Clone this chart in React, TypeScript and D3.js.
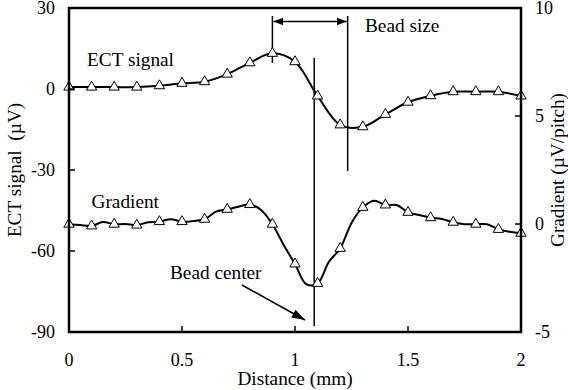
import React from "react";
import * as d3 from "d3";

// ---- data ----
const ectDistance = [0, 0.1, 0.2, 0.3, 0.4, 0.5, 0.6, 0.7, 0.8, 0.9, 1.0, 1.1, 1.2, 1.3, 1.4, 1.5, 1.6, 1.7, 1.8, 1.9, 2.0];
const ectValues = [0.7, 0.7, 0.7, 0.7, 1.2, 2.1, 2.7, 5.5, 9.7, 13.2, 10.1, -2.6, -13.3, -14.0, -9.4, -4.9, -2.5, -1.0, -1.0, -1.0, -2.6];

const gradDistance = [
  0, 0.05, 0.1, 0.15, 0.2, 0.25, 0.3, 0.35, 0.4, 0.45, 0.5, 0.55, 0.6, 0.65, 0.7, 0.75, 0.8, 0.85, 0.9, 0.95,
  1.0, 1.05, 1.1, 1.15, 1.2, 1.25, 1.3, 1.35, 1.4, 1.45, 1.5, 1.55, 1.6, 1.65, 1.7, 1.75, 1.8, 1.85, 1.9, 1.95, 2.0,
];
const gradValues = [
  -0.01, -0.05, -0.09, 0.09, -0.01, 0.0, -0.05, 0.08, 0.11, 0.22, 0.11, 0.14, 0.22, 0.57, 0.68, 0.8, 0.9, 0.65, -0.01, -0.97,
  -1.85, -2.78, -2.75, -1.75, -1.13, 0.05, 0.77, 1.08, 0.88, 0.88, 0.54, 0.42, 0.29, 0.23, 0.08, -0.01, -0.01, -0.01, -0.25, -0.36, -0.43,
];

const xTicks = [0, 0.5, 1, 1.5, 2];
const xTickLabels = ["0", "0.5", "1", "1.5", "2"];
const yLeftTicks = [30, 0, -30, -60, -90];
const yRightTicks = [10, 5, 0, -5];

const beadSizeRange = [0.9, 1.233];
const beadCenter = 1.085;

// ---- layout ----
const W = 568;
const H = 390;
const L = 69;
const R = 521;
const T = 8;
const B = 332;

const FONT = '"Liberation Serif", "DejaVu Serif", "Times New Roman", serif';
const TICK_FS = 18;
const LABEL_FS = 19.3;

export default function App() {
  const x = d3.scaleLinear().domain([0, 2]).range([L, R]);
  const yL = d3.scaleLinear().domain([-90, 30]).range([B, T]);
  const yR = d3.scaleLinear().domain([-5, 10]).range([B, T]);

  const ectLine = d3
    .line<number>()
    .x((_, i) => x(ectDistance[i]))
    .y((d) => yL(d))
    .curve(d3.curveCatmullRom.alpha(0.5));
  const gradLine = d3
    .line<number>()
    .x((_, i) => x(gradDistance[i]))
    .y((d) => yR(d))
    .curve(d3.curveCatmullRom.alpha(0.5));

  const tri = d3.symbol().type(d3.symbolTriangle).size(46)() as string;

  const gradMarkers = gradValues
    .map((v, i) => ({ d: gradDistance[i], v, i }))
    .filter((p) => p.i % 2 === 0);

  const bx0 = x(beadSizeRange[0]);
  const bx1 = x(beadSizeRange[1]);
  const arrowY = 21.5;
  const bc = x(beadCenter);

  return (
    <svg
      width={W}
      height={H}
      style={{ position: "absolute", left: 0, top: 0, background: "#fff", fontFamily: FONT }}
    >
      <defs>
        <marker id="ah" viewBox="0 0 10 10" refX="10" refY="5" markerWidth="10" markerHeight="10" markerUnits="userSpaceOnUse" orient="auto-start-reverse">
          <path d="M0,1 L10,5 L0,9 z" fill="#000" />
        </marker>
        <marker id="ah2" viewBox="0 0 12 10" refX="12" refY="5" markerWidth="14" markerHeight="11" markerUnits="userSpaceOnUse" orient="auto">
          <path d="M0,1 L12,5 L0,9 z" fill="#000" />
        </marker>
      </defs>

      {/* data lines */}
      <path d={ectLine(ectValues) || ""} fill="none" stroke="#000" strokeWidth={2} />
      <path d={gradLine(gradValues) || ""} fill="none" stroke="#000" strokeWidth={2} />

      {/* annotation lines */}
      <line x1={bx0} x2={bx0} y1={16} y2={63} stroke="#000" strokeWidth={1.5} />
      <line x1={bx1} x2={bx1} y1={16} y2={171} stroke="#000" strokeWidth={1.5} />
      <line x1={bx0 + 1} x2={bx1 - 1} y1={arrowY} y2={arrowY} stroke="#000" strokeWidth={1.5} markerStart="url(#ah)" markerEnd="url(#ah)" />
      <line x1={bc} x2={bc} y1={58} y2={326} stroke="#000" strokeWidth={1.5} />
      <line x1={242} y1={285} x2={305} y2={320} stroke="#000" strokeWidth={1.5} markerEnd="url(#ah2)" />

      {/* markers */}
      {ectValues.map((v, i) => (
        <path key={"e" + i} d={tri} transform={`translate(${x(ectDistance[i])},${yL(v)})`} fill="#fff" stroke="#000" strokeWidth={1} />
      ))}
      {gradMarkers.map((p) => (
        <path key={"g" + p.i} d={tri} transform={`translate(${x(p.d)},${yR(p.v)})`} fill="#fff" stroke="#000" strokeWidth={1} />
      ))}

      {/* frame */}
      <rect x={L} y={T} width={R - L} height={B - T} fill="none" stroke="#000" strokeWidth={2.5} />

      {/* ticks */}
      {xTicks.map((t) => (
        <line key={"xt" + t} x1={x(t)} x2={x(t)} y1={B} y2={B - 6} stroke="#000" strokeWidth={1.5} />
      ))}
      {yLeftTicks.map((t) => (
        <line key={"yl" + t} x1={L} x2={L + 6} y1={yL(t)} y2={yL(t)} stroke="#000" strokeWidth={1.5} />
      ))}
      {yRightTicks.map((t) => (
        <line key={"yr" + t} x1={R} x2={R - 6} y1={yR(t)} y2={yR(t)} stroke="#000" strokeWidth={1.5} />
      ))}

      {/* tick labels */}
      {xTicks.map((t, i) => (
        <text key={"xl" + t} x={x(t)} y={366} fontSize={TICK_FS} textAnchor="middle">
          {xTickLabels[i]}
        </text>
      ))}
      {yLeftTicks.map((t) => (
        <text key={"yll" + t} x={55} y={yL(t) + 6} fontSize={TICK_FS} textAnchor="end">
          {String(t)}
        </text>
      ))}
      {yRightTicks.map((t) => (
        <text key={"yrl" + t} x={535} y={yR(t) + 6} fontSize={TICK_FS} textAnchor="start">
          {String(t)}
        </text>
      ))}

      {/* axis titles */}
      <text x={(L + R) / 2} y={384.5} fontSize={LABEL_FS} textAnchor="middle">
        Distance (mm)
      </text>
      <text transform={`translate(21,${(T + B) / 2}) rotate(-90)`} fontSize={LABEL_FS} textAnchor="middle" style={{ whiteSpace: "pre" }}>
        {"ECT signal  (\u00B5V)"}
      </text>
      <text transform={`translate(564,${(T + B) / 2}) rotate(-90)`} fontSize={LABEL_FS} textAnchor="middle">
        {"Gradient (\u00B5V/pitch)"}
      </text>

      {/* annotations */}
      <text x={87} y={66} fontSize={LABEL_FS}>ECT signal</text>
      <text x={91.5} y={208} fontSize={LABEL_FS}>Gradient</text>
      <text x={170} y={279} fontSize={LABEL_FS}>Bead center</text>
      <text x={365} y={32} fontSize={LABEL_FS}>Bead size</text>
    </svg>
  );
}
